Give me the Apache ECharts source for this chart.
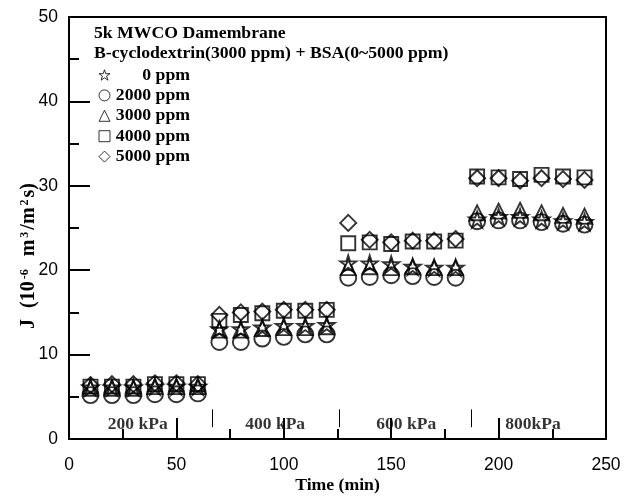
<!DOCTYPE html>
<html>
<head>
<meta charset="utf-8">
<script src="https://cdn.jsdelivr.net/npm/echarts@6/dist/echarts.min.js"></script>
<style>html,body{margin:0;padding:0;background:#fff;}#c{width:634px;height:499px;}</style>
</head>
<body>
<div id="c"></div>
<script>
const timeMin = [10,20,30,40,50,60,70,80,90,100,110,120,130,140,150,160,170,180,190,200,210,220,230,240];
const seriesNames = ['0 ppm','2000 ppm','3000 ppm','4000 ppm','5000 ppm'];
const ppm0    = [6.1,6.1,6.1,6.2,6.2,6.2, 13.0,13.0,13.2,13.4,13.4,13.5, 20.8,20.8,20.7,20.4,20.3,20.3, 26.0,26.3,26.3,26.0,25.8,25.7];
const ppm2000 = [5.2,5.2,5.2,5.3,5.3,5.4, 11.5,11.5,11.9,12.1,12.4,12.4, 19.1,19.2,19.4,19.3,19.2,19.1, 25.8,25.9,25.9,25.7,25.5,25.4];
const ppm3000 = [6.0,6.0,6.0,6.2,6.2,6.2, 12.9,12.9,13.1,13.2,13.2,13.3, 20.3,20.4,20.3,20.4,20.3,20.3, 26.8,27.0,27.1,26.8,26.5,26.4];
const ppm4000 = [6.2,6.2,6.2,6.5,6.5,6.5, 14.0,14.7,14.9,15.2,15.2,15.3, 23.2,23.3,23.1,23.4,23.4,23.5, 31.1,31.0,30.8,31.3,31.1,31.0];
const ppm5000 = [6.4,6.5,6.5,6.6,6.6,6.5, 14.7,15.0,15.1,15.3,15.3,15.3, 25.6,23.6,23.3,23.5,23.5,23.7, 30.9,30.9,30.6,30.9,30.8,30.7];
const pressureLabels = ['200 kPa','400 kPa','600 kPa','800kPa'];
const pressureLabelX = [32, 96, 157, 216];
const pressureLabelY = 1.75;
const separatorX = [66.5, 125.7, 187.3];
const xTicks = [0,50,100,150,200,250];
const yTicks = [0,10,20,30,40,50];

const STAR = 'path://M50,0 L61.8,35.4 L100,35.4 L69.1,57.3 L80.9,95.1 L50,72.4 L19.1,95.1 L30.9,57.3 L0,35.4 L38.2,35.4 Z';
const serif = '"Liberation Serif","Times New Roman",serif';
const sans = '"Liberation Sans",Arial,sans-serif';
const FS = 17.7;
const allVals = [ppm0, ppm2000, ppm3000, ppm4000, ppm5000];
const symbols = [STAR, 'circle', 'triangle', 'rect', 'diamond'];
const sizes = [16, 16, 15, 14, 16];

const chart = echarts.init(document.getElementById('c'), null, {renderer: 'canvas'});
const series = allVals.map((vals, i) => ({
  name: seriesNames[i],
  type: 'scatter',
  symbol: symbols[i],
  symbolSize: sizes[i],
  itemStyle: {color: 'rgba(0,0,0,0)', borderColor: '#000', borderWidth: 1.9},
  emphasis: {disabled: true},
  data: timeMin.map((t, k) => [t, vals[k]]),
  z: 3
}));
series.push({
  name: 'annot',
  type: 'scatter',
  symbolSize: 0,
  silent: true,
  data: pressureLabels.map((s, i) => ({value: [pressureLabelX[i], pressureLabelY], name: s})),
  label: {show: true, position: 'inside', formatter: p => p.name, color: '#000',
          fontFamily: serif, fontWeight: 'bold', fontSize: 17.5},
  markLine: {
    silent: true, symbol: 'none', animation: false,
    lineStyle: {color: '#000', width: 1, type: 'solid'},
    label: {show: false},
    data: separatorX.map(x => [{coord: [x, 1.4]}, {coord: [x, 3.5]}])
  }
});

const tStyle = {fontFamily: serif, fontWeight: 'bold', fontSize: FS, color: '#000'};
const base = {fontFamily: serif, fontWeight: 'bold', color: '#000'};
chart.setOption({
  animation: false,
  backgroundColor: '#fff',
  title: [
    {text: '5k MWCO Damembrane', left: 94, top: 24, padding: 0, textStyle: tStyle},
    {text: 'B-cyclodextrin(3000 ppm) + BSA(0~5000 ppm)', left: 94, top: 44, padding: 0, textStyle: tStyle}
  ],
  legend: {
    data: seriesNames,
    orient: 'vertical', left: 98.5, top: 65, padding: 0,
    itemWidth: 11, itemHeight: 11, itemGap: 0.4, itemTextGap: 7,
    selectedMode: false,
    formatter: n => '{r|' + n + '}',
    textStyle: Object.assign({lineHeight: 20}, tStyle, {
      rich: {r: Object.assign({width: 75, align: 'right', lineHeight: 20}, tStyle)}}),
    itemStyle: {borderWidth: 1}
  },
  grid: {left: 69, right: 28, top: 17, bottom: 57, show: true, borderColor: '#000', borderWidth: 2, backgroundColor: 'transparent'},
  xAxis: {
    type: 'value', min: xTicks[0], max: xTicks[xTicks.length-1], interval: 50,
    name: 'Time (min)', nameLocation: 'middle', nameGap: 37, nameMoveOverlap: false,
    nameTextStyle: tStyle,
    axisLine: {show: true, lineStyle: {color: '#000', width: 2}},
    axisTick: {show: true, inside: true, length: 21, lineStyle: {color: '#000', width: 2}},
    minorTick: {show: true, splitNumber: 2, length: 10, lineStyle: {color: '#000', width: 2}},
    splitLine: {show: false},
    axisLabel: {fontFamily: sans, fontSize: 17.5, color: '#000', margin: 17}
  },
  yAxis: {
    type: 'value', min: yTicks[0], max: yTicks[yTicks.length-1], interval: 10,
    name: '{a|J}{sp|}{a|(10}{s|-6}{sp|}{a|m}{s|3}{a|/m}{s|2}{a|s)}', nameLocation: 'middle', nameGap: 30, nameRotate: 90,
    nameMoveOverlap: false,
    nameTextStyle: Object.assign({}, tStyle, {
      padding: [0, 56, 0, 0],
      rich: {
        a: Object.assign({fontSize: 20}, base),
        sp: {width: 11, fontSize: 20},
        s: Object.assign({fontSize: 12, verticalAlign: 'top', padding: [0, 2, 8, 2]}, base)
      }}),
    axisLine: {show: true, lineStyle: {color: '#000', width: 2}},
    axisTick: {show: true, inside: true, length: 21, lineStyle: {color: '#000', width: 2}},
    minorTick: {show: true, splitNumber: 2, length: 10, lineStyle: {color: '#000', width: 2}},
    splitLine: {show: false},
    axisLabel: {fontFamily: sans, fontSize: 17.5, color: '#000', margin: 11}
  },
  series: series
});
</script>
</body>
</html>
